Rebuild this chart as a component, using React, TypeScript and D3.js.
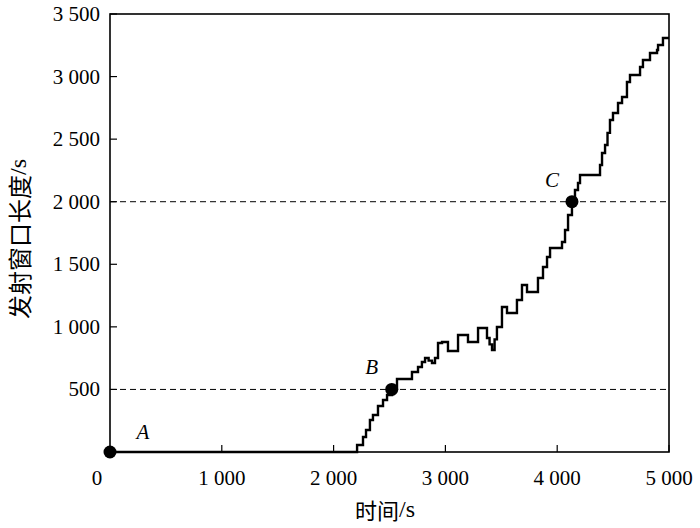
import React from "react";
import * as d3 from "d3";

const times = [0, 2200, 2210, 2263, 2290, 2325, 2352, 2397, 2442, 2478, 2522, 2567, 2683, 2701, 2755, 2790, 2818, 2850, 2880, 2907, 2934, 2970, 3023, 3086, 3113, 3202, 3265, 3292, 3336, 3372, 3395, 3417, 3440, 3461, 3506, 3551, 3622, 3640, 3685, 3730, 3784, 3828, 3873, 3909, 3936, 4025, 4043, 4070, 4097, 4132, 4159, 4186, 4204, 4356, 4383, 4401, 4428, 4450, 4472, 4499, 4544, 4580, 4624, 4651, 4723, 4741, 4767, 4830, 4893, 4902, 4946, 5000];
const values = [0, 0, 56, 120, 176, 256, 296, 368, 416, 455, 503, 583, 583, 639, 679, 719, 751, 730, 711, 751, 871, 879, 807, 807, 935, 879, 879, 991, 991, 911, 860, 815, 900, 999, 1159, 1111, 1111, 1215, 1335, 1279, 1279, 1390, 1478, 1558, 1630, 1630, 1678, 1774, 1894, 1998, 2094, 2150, 2214, 2214, 2293, 2389, 2453, 2550, 2653, 2709, 2789, 2837, 2957, 3013, 3013, 3077, 3133, 3188, 3212, 3252, 3308, 3308];

const xTicks = [1000, 2000, 3000, 4000, 5000];
const yTicks = [500, 1000, 1500, 2000, 2500, 3000, 3500];
const refLines = [500, 2000];
const markers = [
  { label: "A", t: 0, v: 0 },
  { label: "B", t: 2520, v: 500 },
  { label: "C", t: 4132, v: 2000 },
];

const fmt = (v: number) => {
  const s = String(v);
  return s.length > 3 ? s.slice(0, s.length - 3) + " " + s.slice(-3) : s;
};

export default function App() {
  const W = 700, H = 528;
  const left = 110, right = 669, top = 14, bottom = 452;
  const x = d3.scaleLinear().domain([0, 5000]).range([left, right]);
  const y = d3.scaleLinear().domain([0, 3500]).range([bottom, top]);
  const pts: [number, number][] = times.map((t, i) => [t, values[i]]);
  const line = d3
    .line<[number, number]>()
    .x((d) => x(d[0]))
    .y((d) => y(d[1]))
    .curve(d3.curveStepAfter);
  const serif = "'Liberation Serif', 'Times New Roman', serif";
  const cjk = "'Noto Sans CJK SC', sans-serif";
  const labelOffsets: Record<string, [number, number]> = {
    A: [33, -20],
    B: [-20, -22],
    C: [-20, -22],
  };
  return (
    <svg width={W} height={H} style={{ position: "absolute", left: 0, top: 0, background: "#fff" }}>
      <rect x={0} y={0} width={W} height={H} fill="#fff" />
      {refLines.map((v) => (
        <line key={v} x1={x(0)} x2={x(5000)} y1={y(v)} y2={y(v)} stroke="#000" strokeWidth={1} strokeDasharray="6,4" />
      ))}
      <path d={line(pts) || ""} fill="none" stroke="#000" strokeWidth={2.4} />
      <rect x={left} y={top} width={right - left} height={bottom - top} fill="none" stroke="#000" strokeWidth={1.6} />
      {xTicks.map((t) => (
        <g key={t}>
          <line x1={x(t)} x2={x(t)} y1={bottom} y2={bottom - 7} stroke="#000" strokeWidth={1.2} />
          <text x={x(t)} y={485} textAnchor="middle" fontFamily={serif} fontSize={21}>
            {fmt(t)}
          </text>
        </g>
      ))}
      <text x={97} y={485} textAnchor="middle" fontFamily={serif} fontSize={21}>0</text>
      {yTicks.map((v) => (
        <g key={v}>
          <line x1={left} x2={left + 7} y1={y(v)} y2={y(v)} stroke="#000" strokeWidth={1.2} />
          <text x={100} y={y(v) + 7} textAnchor="end" fontFamily={serif} fontSize={21}>
            {fmt(v)}
          </text>
        </g>
      ))}
      {markers.map((m) => (
        <g key={m.label}>
          <circle cx={x(m.t)} cy={y(m.v)} r={6.5} fill="#000" />
          <text
            x={x(m.t) + labelOffsets[m.label][0]}
            y={y(m.v) + labelOffsets[m.label][1] + 7}
            textAnchor="middle"
            fontFamily={serif}
            fontStyle="italic"
            fontSize={21}
          >
            {m.label}
          </text>
        </g>
      ))}
      <text x={385} y={509} textAnchor="middle" dominantBaseline="central" fontSize={22}>
        <tspan fontFamily={cjk}>时间</tspan>
        <tspan fontFamily={serif} fontSize={24}>/s</tspan>
      </text>
      <text
        transform={`translate(18, 239) rotate(-90)`}
        textAnchor="middle"
        dominantBaseline="central"
        fontSize={24}
      >
        <tspan fontFamily={cjk}>发射窗口长度</tspan>
        <tspan fontFamily={serif}>/s</tspan>
      </text>
    </svg>
  );
}
